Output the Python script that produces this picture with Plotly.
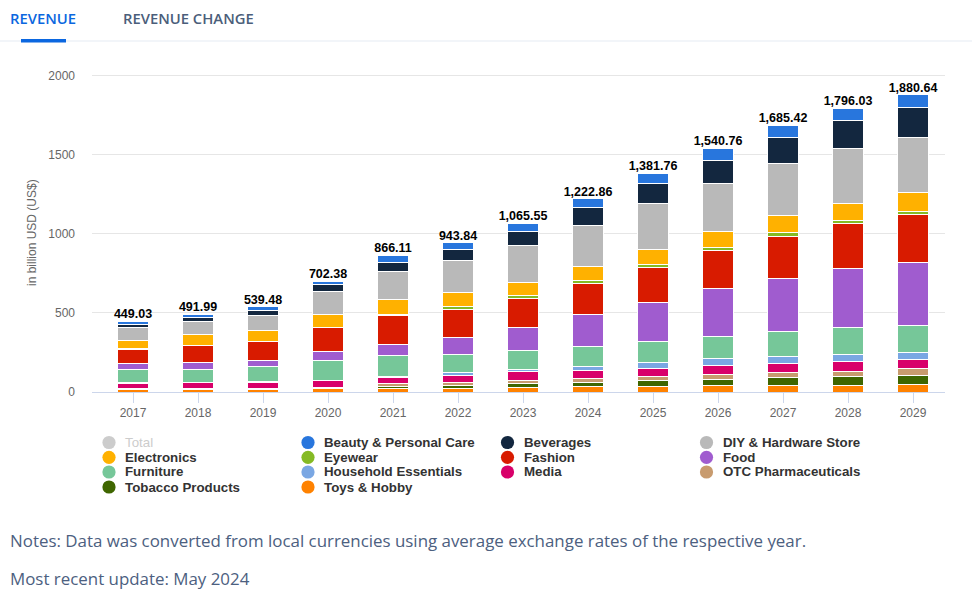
import plotly.graph_objects as go

years = ["2017", "2018", "2019", "2020", "2021", "2022", "2023", "2024", "2025", "2026", "2027", "2028", "2029"]
totals = [449.03, 491.99, 539.48, 702.38, 866.11, 943.84, 1065.55, 1222.86, 1381.76, 1540.76, 1685.42, 1796.03, 1880.64]

toys_hobby = [17, 17, 17, 21, 21, 21, 30, 34, 34, 40, 40, 40, 49]
tobacco = [3, 3, 3, 3, 12, 21, 25, 27, 40, 42, 49, 55, 53]
otc_pharma = [3, 3, 3, 3, 18, 19, 17, 27, 27, 30, 36, 34, 44]
media = [32, 34, 40, 44, 42, 44, 57, 51, 49, 57, 55, 63, 57]
household = [3, 3, 3, 3, 8, 19, 15, 25, 34, 42, 42, 44, 49]
furniture = [86, 84, 93, 127, 127, 116, 120, 122, 137, 143, 162, 173, 171]
food = [34, 44, 42, 57, 72, 103, 143, 204, 244, 298, 332, 370, 397]
fashion = [93, 103, 116, 147, 182, 182, 186, 196, 220, 241, 269, 286, 303]
eyewear = [2, 2, 2, 3, 10, 14, 15, 17, 21, 19, 21, 19, 19]
electronics = [53, 70, 72, 84, 95, 89, 87, 91, 93, 101, 108, 110, 118]
diy_hardware = [81, 81, 91, 141, 178, 204, 229, 262, 291, 304, 333, 347, 351]
beverages = [23, 27, 32, 44, 57, 72, 93, 112, 129, 150, 162, 177, 186]
beauty = [19, 21, 25, 25, 44, 40, 49, 55, 63, 74, 76, 78, 84]

# stacking order (bottom -> top)
stack = [
    ("Toys & Hobby", toys_hobby, "#ff8200"),
    ("Tobacco Products", tobacco, "#3f6600"),
    ("OTC Pharmaceuticals", otc_pharma, "#c89b6e"),
    ("Media", media, "#d8006a"),
    ("Household Essentials", household, "#7aa7e3"),
    ("Furniture", furniture, "#76c799"),
    ("Food", food, "#a05ccf"),
    ("Fashion", fashion, "#d81b00"),
    ("Eyewear", eyewear, "#85ba24"),
    ("Electronics", electronics, "#ffb100"),
    ("DIY & Hardware Store", diy_hardware, "#b9b9b9"),
    ("Beverages", beverages, "#13273f"),
    ("Beauty & Personal Care", beauty, "#2876dd"),
]

legend_order = [
    ("Total", "#cccccc"),
    ("Beauty & Personal Care", "#2876dd"),
    ("Beverages", "#13273f"),
    ("DIY & Hardware Store", "#b9b9b9"),
    ("Electronics", "#ffb100"),
    ("Eyewear", "#85ba24"),
    ("Fashion", "#d81b00"),
    ("Food", "#a05ccf"),
    ("Furniture", "#76c799"),
    ("Household Essentials", "#7aa7e3"),
    ("Media", "#d8006a"),
    ("OTC Pharmaceuticals", "#c89b6e"),
    ("Tobacco Products", "#3f6600"),
    ("Toys & Hobby", "#ff8200"),
]

W, H = 972, 596
ML, MR, MT, MB = 92, 27, 60, 204
PW, PH = W - ML - MR, H - MT - MB


def px(x):
    return (x - ML) / PW


def py(y):
    return (H - MB - y) / PH


fig = go.Figure()
for name, vals, col in stack:
    fig.add_trace(go.Bar(
        x=years, y=vals, name=name, showlegend=False,
        marker=dict(color=col, line=dict(color="white", width=1)),
    ))

fig.add_trace(go.Scatter(
    x=years, y=totals, mode="text", texttemplate="%{y:,.2f}",
    textposition="top center", showlegend=False,
    textfont=dict(family="Liberation Sans, Arial", size=12.5, color="#000000", weight="bold"),
))

shapes = []
annotations = []

# manual legend (4 columns, row-major)
col_x = [109, 308, 507.5, 706.5]
row_y = [442.5, 457.3, 472, 487]
for i, (name, col) in enumerate(legend_order):
    r, c = divmod(i, 4)
    cx, cy = col_x[c], row_y[r]
    shapes.append(dict(
        type="circle", xref="paper", yref="paper", xsizemode="pixel", ysizemode="pixel",
        xanchor=px(cx), yanchor=py(cy), x0=-6.6, x1=6.6, y0=-6.6, y1=6.6,
        fillcolor=col, line=dict(width=0),
    ))
    annotations.append(dict(
        xref="paper", yref="paper", x=px(cx + 14), y=py(cy), xanchor="left", yanchor="middle",
        text=name, showarrow=False,
        font=dict(family="Liberation Sans, Arial", size=13.3,
                  color="#cccccc" if name == "Total" else "#333333", weight="normal" if name == "Total" else "bold"),
    ))

# tabs
annotations.append(dict(xref="paper", yref="paper", x=px(8), y=py(18), xanchor="left", yanchor="middle",
                        text="REVENUE", showarrow=False,
                        font=dict(family="Open Sans", size=14.8, color="#0b67e0", weight=600)))
annotations.append(dict(xref="paper", yref="paper", x=px(121), y=py(18), xanchor="left", yanchor="middle",
                        text="REVENUE CHANGE", showarrow=False,
                        font=dict(family="Open Sans", size=14.8, color="#4b5e7a", weight=600)))
shapes.append(dict(type="line", xref="paper", yref="paper", x0=px(0), x1=px(W), y0=py(41), y1=py(41),
                   line=dict(color="#eef2f7", width=1.5)))
shapes.append(dict(type="rect", xref="paper", yref="paper", x0=px(21), x1=px(66), y0=py(42.5), y1=py(39),
                   fillcolor="#0b67e0", line=dict(width=0)))

# y title
annotations.append(dict(xref="paper", yref="paper", x=px(32), y=py(233), xanchor="center", yanchor="middle",
                        text="in billion USD (US$)", textangle=-90, showarrow=False,
                        font=dict(family="Liberation Sans, Arial", size=12, color="#666666")))

# notes
annotations.append(dict(xref="paper", yref="paper", x=px(8), y=py(540), xanchor="left", yanchor="middle",
                        text="Notes: Data was converted from local currencies using average exchange rates of the respective year.",
                        showarrow=False, font=dict(family="Open Sans", size=16.9, color="#4c6080")))
annotations.append(dict(xref="paper", yref="paper", x=px(8), y=py(578), xanchor="left", yanchor="middle",
                        text="Most recent update: May 2024",
                        showarrow=False, font=dict(family="Open Sans", size=16.9, color="#4c6080")))

fig.update_layout(
    width=W, height=H, margin=dict(l=ML, r=MR, t=MT, b=MB),
    barmode="stack", bargap=0.51,
    paper_bgcolor="white", plot_bgcolor="white",
    showlegend=False,
    shapes=shapes, annotations=annotations,
    xaxis=dict(type="category", range=[-0.631, 12.492], showgrid=False,
               showline=True, linecolor="#ccd6eb", linewidth=1,
               ticks="outside", ticklen=10, tickcolor="#ccd6eb",
               tickfont=dict(family="Liberation Sans, Arial", size=12, color="#666666")),
    yaxis=dict(range=[0, 2100], tickvals=[0, 500, 1000, 1500, 2000], showgrid=True,
               gridcolor="#e6e6e6", gridwidth=1, zeroline=False, showline=False,
               ticks="", ticklabelstandoff=16,
               tickfont=dict(family="Liberation Sans, Arial", size=12, color="#666666")),
    font=dict(family="Liberation Sans, Arial"),
)

fig.write_html("out.html", config={"displayModeBar": False},
               post_script="document.body.style.margin='0';document.body.style.padding='0';")
